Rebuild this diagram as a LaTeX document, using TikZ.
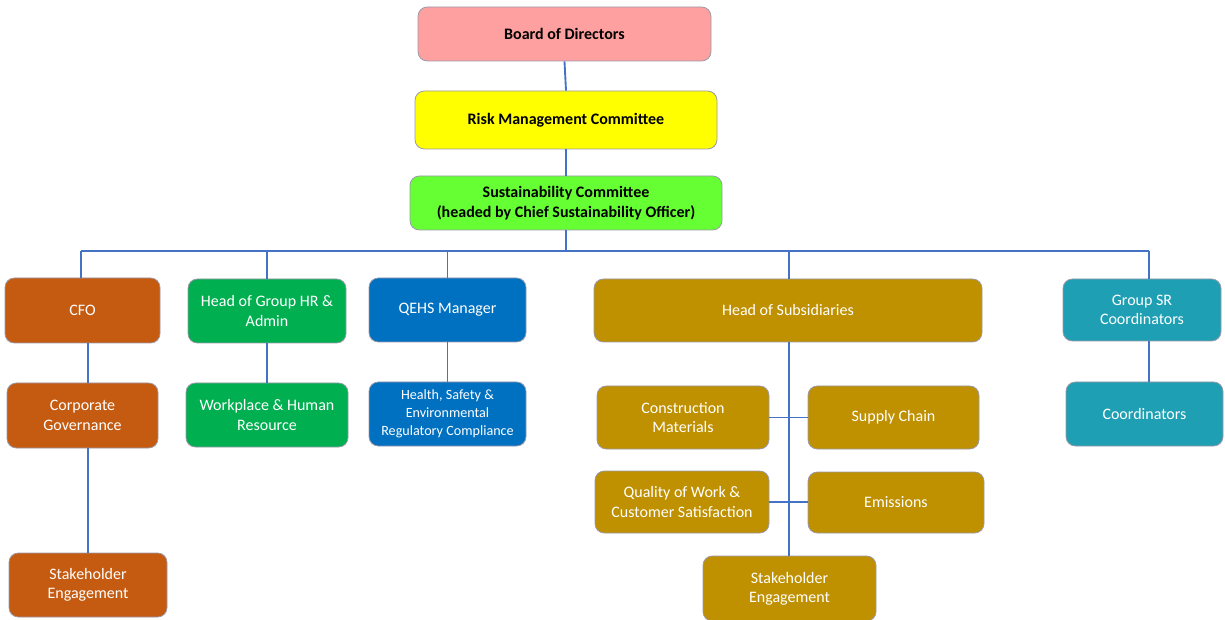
\documentclass[tikz,border=0pt]{standalone}
\usepackage{fontspec}
\setmainfont{Carlito}
\definecolor{cpink}{HTML}{FFA0A0}
\definecolor{cyel}{HTML}{FFFF00}
\definecolor{clime}{HTML}{66FF33}
\definecolor{corange}{HTML}{C55A11}
\definecolor{cgreen}{HTML}{00B050}
\definecolor{cblue}{HTML}{0070C0}
\definecolor{cgold}{HTML}{BF9000}
\definecolor{cteal}{HTML}{1F9FB3}
\definecolor{cline}{HTML}{4472C4}
\definecolor{cedge}{HTML}{9A9AAA}
\newcommand\obox[7]{\node[#6, minimum width={(#4-#2)*0.75pt}, minimum height={(#5-#3)*0.75pt}] (#1) at ({(#2+#4)/2},{(#3+#5)/2}) {#7};}
\tikzset{
  box/.style={draw=cedge, line width=0.6pt, rounded corners=7pt, inner sep=0pt, align=center, font=\fontsize{12pt}{14.5pt}\selectfont},
  topbox/.style={box, text=black, font=\fontsize{12pt}{14.8pt}\selectfont\bfseries},
  wbox/.style={box, text=white},
  conn/.style={draw=cline, line width=1.4pt}
}
\begin{document}
\begin{tikzpicture}[x=0.75pt,y=-0.75pt]
\useasboundingbox (0,0) rectangle (1225,620);
% nodes
\obox{bod}{418}{7}{711}{61}{topbox, fill=cpink}{Board of Directors}
\obox{rmc}{415}{91}{717}{149}{topbox, fill=cyel}{Risk Management Committee}
\obox{sc}{410}{176}{722}{230}{topbox, fill=clime}{Sustainability Committee\\(headed by Chief Sustainability Officer)}
\obox{cfo}{5}{278}{160}{343}{wbox, fill=corange}{CFO}
\obox{hr}{188}{279}{346}{343}{wbox, fill=cgreen}{Head of Group HR \&\\Admin}
\obox{qehs}{369}{278}{526}{342}{wbox, fill=cblue}{QEHS Manager}
\obox{hos}{594}{279}{982}{342}{wbox, fill=cgold}{Head of Subsidiaries}
\obox{gsr}{1063}{279}{1221}{341}{wbox, fill=cteal}{Group SR\\Coordinators}
\obox{cg}{7}{383}{158}{448}{wbox, fill=corange}{Corporate\\Governance}
\obox{whr}{186}{383}{348}{447}{wbox, fill=cgreen}{Workplace \& Human\\Resource}
\obox{hse}{369}{382}{526}{446}{wbox, fill=cblue, font=\fontsize{10.6pt}{13.5pt}\selectfont}{Health, Safety \&\\Environmental\\Regulatory Compliance}
\obox{coord}{1066}{382}{1223}{446}{wbox, fill=cteal}{Coordinators}
\obox{se1}{9}{553}{167}{617}{wbox, fill=corange}{Stakeholder\\Engagement}
\obox{cm}{597}{386}{769}{449}{wbox, fill=cgold}{Construction\\Materials}
\obox{supc}{808}{386}{979}{449}{wbox, fill=cgold}{Supply Chain}
\obox{qw}{595}{471}{769}{533}{wbox, fill=cgold}{Quality of Work \&\\Customer Satisfaction}
\obox{em}{808}{472}{984}{533}{wbox, fill=cgold}{Emissions}
\obox{se2}{703}{556}{876}{621}{wbox, fill=cgold}{Stakeholder\\Engagement}
% connectors
\coordinate (busL) at (81,251);
\coordinate (busR) at (1149,251);
\coordinate (hosx) at (789,251);
\draw[conn] (bod.south) -- (rmc.north);
\draw[conn] (rmc.south) -- (rmc.south |- sc.north);
\draw[conn] (sc.south) -- (sc.south |- busL);
\draw[conn] (busL) -- (busR);
\draw[conn] (busL) -- (busL |- cfo.north);
\draw[conn] (hr.north |- busL) -- (hr.north);
\draw[conn] (qehs.north |- busL) -- (qehs.north);
\draw[conn] (hosx) -- (hosx |- hos.north);
\draw[conn] (busR) -- (busR |- gsr.north);
\draw[conn] (cfo.south -| se1.north) -- (cg.north -| se1.north);
\draw[conn] (cg.south -| se1.north) -- (se1.north);
\draw[conn] (hr.south) -- (hr.south |- whr.north);
\draw[conn] (qehs.south) -- (qehs.south |- hse.north);
\draw[conn] (gsr.south -| busR) -- (coord.north -| busR);
\draw[conn] (hos.south -| hosx) -- (se2.north -| hosx);
\draw[conn] (cm.east) -- (supc.west);
\draw[conn] (qw.east) -- (qw.east -| em.west);
\end{tikzpicture}
\end{document}
